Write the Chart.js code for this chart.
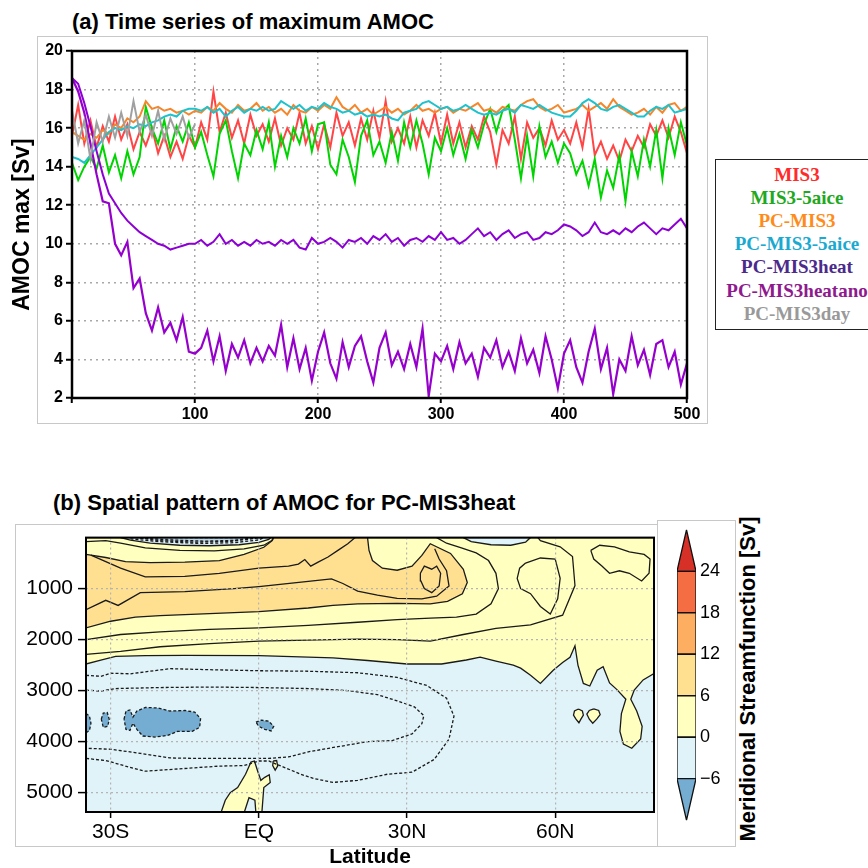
<!DOCTYPE html>
<html><head><meta charset="utf-8">
<script src="https://cdn.jsdelivr.net/npm/chart.js@4.4.1/dist/chart.umd.min.js"></script>
<style>
html,body{margin:0;padding:0;background:#fff}
body{position:relative;width:868px;height:868px;overflow:hidden;font-family:"Liberation Sans",Arial,sans-serif;color:#000}
.box{position:absolute;box-sizing:border-box}
.t{position:absolute;white-space:nowrap}
canvas{position:absolute;display:block}
</style></head><body>
<div class="box" style="left:37px;top:36px;width:671px;height:388px;border:1px solid #c8c8c8"></div>
<div class="t" style="left:72px;top:9px;font-weight:bold;font-size:22px;line-height:26px">(a) Time series of maximum AMOC</div>
<div class="box" style="left:715px;top:159px;width:200px;height:171px;border:1.5px solid #222"></div>
<div id="legend"></div>
<div class="box" style="left:15px;top:524px;width:643px;height:323px;border:1px solid #c8c8c8"></div>
<div class="box" style="left:657px;top:520px;width:79px;height:327px;border:1px solid #c8c8c8"></div>
<div class="t" style="left:53px;top:490px;font-weight:bold;font-size:22px;line-height:26px">(b) Spatial pattern of AMOC for PC-MIS3heat</div>
<div class="t" style="left:583px;top:667px;width:330px;height:24px;line-height:24px;text-align:center;font-weight:bold;font-size:22px;transform:rotate(-90deg)">Meridional Streamfunction [Sv]</div>
<canvas id="cA" width="710" height="400" style="left:0;top:30px"></canvas>
<canvas id="cB" width="680" height="348" style="left:0;top:520px"></canvas>
<canvas id="cC" width="80" height="320" style="left:657px;top:515px"></canvas>
<script>
// ---------------- Panel (a) data ----------------
const years = Array.from({length: 101}, (_, i) => i * 5);   // model year 0..500
const dayYears = years.slice(0, 21);                          // 0..100
const seriesNames = ['MIS3','MIS3-5aice','PC-MIS3','PC-MIS3-5aice','PC-MIS3heat','PC-MIS3heatano','PC-MIS3day'];
const mis3 = [15.6,17.2,15.2,16.4,15.0,16.1,15.3,16.6,15.4,16.2,14.9,15.8,15.1,16.0,14.7,15.6,14.5,15.3,14.4,15.6,15.0,
  16.3,15.4,17.9,15.8,16.8,15.5,16.4,15.2,16.7,15.6,16.2,15.3,16.5,15.1,16.0,15.4,16.8,15.2,16.1,14.9,
  16.2,15.0,16.8,15.6,16.3,15.1,16.5,15.4,16.9,15.5,17.4,15.3,16.0,15.2,16.6,15.0,16.4,15.6,16.8,15.2,
  16.7,15.2,16.3,15.0,16.1,15.4,16.6,15.8,14.1,15.9,15.2,16.6,14.4,16.3,15.5,16.0,15.1,16.4,15.4,15.9,
  15.2,16.3,15.0,17.0,14.6,15.3,14.4,15.1,14.3,15.4,14.8,15.6,15.0,16.2,15.6,16.4,15.5,16.6,15.8,14.7];
const mis3_5aice = [14.2,13.3,14.0,14.5,13.9,15.1,13.7,14.6,13.4,14.8,13.6,14.5,17.1,16.0,15.2,16.4,14.9,16.1,15.3,16.3,15.0,
  15.8,14.6,13.5,15.7,16.4,14.8,13.4,15.2,14.6,15.9,14.9,16.3,14.0,15.6,14.5,16.0,15.2,16.5,14.8,16.2,
  16.3,14.1,13.6,15.4,14.5,13.2,15.6,16.4,14.6,15.3,14.2,15.8,14.3,16.3,15.0,16.4,15.2,13.6,15.5,14.8,
  16.0,14.6,15.7,14.4,15.9,15.0,16.2,17.0,15.8,16.9,17.2,15.4,13.4,15.6,13.5,16.1,14.5,15.3,14.2,15.2,
  14.7,13.6,14.3,13.0,14.4,12.4,13.8,12.9,14.6,12.2,14.8,13.5,15.4,14.0,15.9,13.4,16.0,14.6,16.3,15.1];
const pcMis3 = [15.8,15.6,15.4,15.7,15.5,15.9,15.7,16.2,16.0,16.5,16.3,16.6,17.4,17.0,17.1,16.9,17.0,16.8,16.9,16.7,16.9,
  16.8,17.1,16.9,17.3,17.0,16.8,17.2,16.9,17.0,17.3,16.9,17.1,16.8,17.0,16.7,17.2,16.9,16.8,17.1,16.9,
  17.2,17.0,17.6,17.1,16.9,17.2,16.8,17.0,16.7,16.9,17.1,16.8,17.0,16.7,16.9,17.2,16.9,17.0,16.8,17.0,
  17.1,16.8,17.0,16.9,17.1,17.3,16.9,17.0,16.8,17.1,17.0,16.9,17.2,17.4,17.5,17.1,16.9,17.0,17.2,16.8,
  16.9,17.0,17.2,16.9,17.1,17.3,17.0,17.5,17.1,16.9,16.7,16.8,17.0,16.7,17.1,16.8,17.2,17.3,16.9,17.1];
const pcMis3_5aice = [14.5,14.4,14.2,14.6,15.0,15.4,15.8,16.0,15.9,16.1,16.0,16.2,16.1,16.3,16.4,16.6,16.7,16.6,16.9,17.0,17.0,
  16.9,17.1,16.8,17.0,16.6,16.9,17.1,16.8,17.0,16.9,17.1,16.9,17.0,17.4,17.2,17.0,17.2,16.9,17.1,17.0,
  17.3,17.1,17.0,16.8,16.9,16.7,16.8,16.6,16.7,16.6,16.7,16.5,16.4,16.8,16.9,17.0,17.3,17.4,17.2,17.0,
  17.1,16.9,17.0,17.2,17.0,16.8,16.7,16.8,16.7,16.9,17.0,16.8,17.2,17.1,17.0,17.2,17.0,16.8,16.7,16.6,
  16.6,16.9,17.3,17.5,17.3,17.0,16.9,17.1,17.2,17.0,16.8,16.6,16.6,16.9,17.1,17.0,17.2,16.8,16.9,17.0];
const pcMis3heat = [18.6,18.3,17.3,16.1,14.8,13.6,12.6,12.1,11.6,11.2,10.9,10.6,10.4,10.2,10.0,9.9,9.7,9.8,9.9,10.0,10.0,
  10.2,9.9,10.1,10.5,10.0,10.2,9.9,10.1,9.9,10.2,10.0,10.1,9.9,10.2,10.0,10.2,9.8,9.7,10.3,10.0,
  10.1,10.3,10.1,9.8,10.2,10.1,10.3,10.0,10.4,10.2,10.5,10.1,10.3,9.9,10.2,10.3,10.1,10.4,10.2,10.6,
  10.2,10.3,10.0,10.2,10.5,10.8,10.4,10.6,10.2,10.5,10.7,10.3,10.5,10.6,10.2,10.3,10.6,10.5,10.7,11.0,
  10.9,10.7,10.4,10.6,11.1,10.6,10.5,10.7,10.5,10.8,10.6,10.9,11.1,10.8,10.5,10.8,10.7,11.0,11.3,10.8];
const pcMis3heatano = [18.6,17.9,16.8,15.2,13.6,12.2,12.1,10.0,9.4,10.1,7.7,8.2,6.4,5.5,6.7,5.4,5.9,5.0,6.2,4.4,4.3,
  4.6,5.5,3.9,5.2,3.4,4.8,4.1,5.0,3.8,4.6,3.9,4.7,4.2,5.8,3.6,5.1,3.5,4.6,2.9,4.4,
  5.4,3.8,3.0,4.9,3.6,4.7,5.2,3.9,2.8,4.6,5.4,3.7,4.4,3.5,4.8,3.6,5.6,2.1,4.3,3.9,
  4.7,3.5,4.9,3.8,4.3,3.1,4.6,4.1,5.0,3.6,4.4,3.4,5.1,3.8,4.5,3.3,5.2,4.0,2.5,4.3,
  5.0,3.6,2.8,4.4,5.6,3.5,4.6,2.2,4.0,3.4,5.2,3.7,4.5,3.2,4.8,5.0,3.6,4.4,2.7,3.8];
const pcMis3day = [16.9,15.2,16.4,14.4,16.3,15.3,16.6,15.5,16.8,15.6,17.4,15.8,16.7,15.6,16.9,15.4,16.5,15.7,16.6,15.5,16.2];
const lineColors = ['#ff4545','#00d400','#f5862b','#1cc2cc','#8c00d4','#9600cc','#a0a0a0'];
const legendColors = ['#ff2b2b','#20a820','#ff8c1a','#1aa9d0','#4b2a8c','#8e1a8e','#999999'];

// ---------------- Panel (b) data: contour regions as [latitude, depth (m)] ----------------
const latTicks = {'-30':'30S','0':'EQ','30':'30N','60':'60N'};
const depthTicks = [1000, 2000, 3000, 4000, 5000];
const cbLevels = [-6,0,6,12,18,24];
const cbColors = ['#74add1','#e0f3f8','#ffffbf','#fee090','#fdae61','#f46d43','#d73027'];
const positiveCell = [[-35,0],[80,0],[80,2665],[77.8,2790],[76,2990],[75.3,3170],[76.5,3400],[77.6,3700],[77.3,3950],[75.5,4130],[73.8,4050],[73.1,3800],[73.4,3450],[74.3,3170],[72.5,2980],[71,2850],[69.7,2530],[68.5,2600],[67,2910],[65.7,2860],[64.6,2500],[64,2120],[63,2345],[61.5,2450],[59.6,2600],[57,2860],[55,2700],[53,2560],[51.5,2500],[48,2420],[44.8,2345],[42,2400],[37,2478],[30,2478],[22,2410],[15,2360],[0,2314],[-15,2310],[-23,2314],[-29,2330],[-32,2400],[-35,2478]];
const above6 = [[-35,330],[-31,390],[-27,470],[-22,490],[-15,480],[-8,450],[-3,330],[1,190],[2.7,60],[3,0],[22,0],[22.3,250],[23,450],[25,600],[28,640],[31,560],[33,350],[34.7,120],[38.8,310],[41.4,620],[42.2,880],[41.2,1100],[38.2,1250],[34.7,1300],[28,1290],[20,1300],[15,1330],[10,1380],[0,1450],[-10,1490],[-20,1530],[-25,1560],[-30,1640],[-35,1770]];
const surfaceCellS = [[-28,0],[-26,50],[-22,110],[-16,150],[-10,160],[-4,140],[0,95],[2,35],[2.4,0]];
const surfaceCoreS = [[-25,0],[-20,60],[-13,90],[-6,75],[-1,20],[0,0]];
const surfaceCellN = [[41.4,0],[43,80],[47,140],[51,150],[54,90],[55,0]];
const ovalA = [[64.7,3360],[65.5,3400],[65.7,3480],[65.2,3560],[64.8,3630],[64.2,3560],[63.7,3480],[63.9,3400]];
const ovalB = [[67.8,3360],[68.8,3390],[69.1,3470],[68.4,3560],[67.6,3640],[66.9,3560],[66.4,3460],[66.9,3390]];
const bottomBlob = [[-7.7,5400],[-6.8,5150],[-5.8,5000],[-4.3,4900],[-2.7,4640],[-1.6,4400],[-0.9,4380],[-0.3,4560],[0.4,4760],[1.2,4700],[2.1,4650],[2.3,4800],[1.0,4900],[0.8,5150],[0.6,5400],[-0.6,5400],[-0.8,5150],[-2.0,5100],[-3.0,5400]];
const bottomSpike = [[2.9,4380],[3.6,4370],[3.8,4480],[3.3,4560],[2.8,4470]];
const belowM6Main = [[-27.3,3560],[-26.9,3400],[-26.1,3380],[-25.5,3520],[-24.7,3400],[-23,3330],[-20.5,3340],[-18,3400],[-15,3390],[-13,3420],[-11.8,3550],[-12,3720],[-13.5,3800],[-16.5,3800],[-18.5,3880],[-21,3910],[-23.5,3890],[-24.7,3760],[-25.5,3640],[-26.1,3780],[-26.9,3760]];
const belowM6Small = [[-31.9,3560],[-31.5,3440],[-30.7,3430],[-30.3,3560],[-30.6,3700],[-31.5,3720]];
const belowM6Edge = [[-35,3450],[-34.3,3500],[-34,3640],[-34.3,3780],[-35,3830]];
const belowM6Eq = [[-0.6,3620],[0.5,3580],[2,3600],[3,3700],[2.5,3790],[1.2,3760],[0,3700]];
const loopA = [[54,500],[57,400],[60,420],[61,800],[60.5,1200],[59,1500],[57,1350],[55,1100],[53,1000],[52.3,800],[52.8,600]];
const loopB = [[67.2,250],[69,150],[72,180],[75,280],[78,330],[79.2,420],[79,700],[77.5,850],[75,700],[73,650],[71,700],[69.5,560],[67.8,420]];
const loopM = [[32.7,700],[33.5,560],[35,620],[36,560],[36.8,700],[36.5,950],[35,1080],[33.5,1000],[32.8,850]];
const c2 = [[-35,2290],[-28,2230],[-20,2140],[-10,2080],[0,2030],[10,2010],[20,1990],[28,2000],[34.7,2030],[41.4,1900],[48,1780],[55,1710],[61.5,1520],[64,940],[63.5,370],[61,180],[57,60],[56.5,0]];
const c4 = [[-35,2000],[-28,1900],[-20,1850],[-10,1800],[0,1770],[10,1720],[20,1660],[28,1610],[34.7,1580],[40,1560],[44,1500],[47,1300],[48.5,1000],[48,700],[46.5,450],[44,300],[41,200],[38,110],[36,0]];
const c8 = [[-35,1415],[-31,1230],[-28.5,1330],[-24,1080],[-15,1060],[-5,1000],[0,960],[10,860],[14.7,810],[17,900],[20,1050],[24,1130],[28,1190],[33,1200],[36,1150],[38.5,950],[38,650],[36.5,420],[35.6,220]];
const c10 = [[-34,345],[-28,600],[-23,770],[-15,760],[-8,700],[0,600],[6,560],[8,520],[9.3,430],[10.5,560],[12,480],[14,380],[16,250],[18,120],[19.5,0]];
const ringS = [[-35,80],[-31,60],[-28,110],[-23,200],[-16,250],[-9,260],[-3,220],[1,150],[2.6,60],[2.9,0]];
const coreLines = [[[-26,25],[-20,80],[-12,115],[-5,100],[0,45],[1,0]],[[-24,10],[-18,45],[-11,70],[-5,55],[-2,15]]];
const neg2 = [[-35,2700],[-32,2720],[-30,2660],[-26,2670],[-18,2570],[-10,2590],[0,2610],[10,2620],[20,2650],[28,2740],[34,2900],[38,3150],[39.5,3500],[38.5,3950],[35.5,4350],[31,4600],[26,4640],[20,4760],[15,4800],[11,4720],[8.5,4640],[5,4500],[2,4380],[0,4380],[-3,4470],[-8,4480],[-14,4520],[-20,4560],[-23,4580],[-27,4480],[-31,4370],[-35,4330]];
const neg4 = [[-35,2990],[-32,3010],[-29,2960],[-20,2940],[-10,2930],[0,2940],[10,2960],[18,3000],[24,3080],[28,3200],[31.5,3320],[33.4,3490],[33,3650],[31,3850],[27,3980],[22,4000],[16,4100],[10,4200],[6,4300],[2,4330],[-5,4330],[-12,4330],[-18,4320],[-24,4230],[-30,4150],[-35,4130]];

// ---------------- legend (HTML text) ----------------
const leg = document.getElementById('legend');
seriesNames.forEach((n, i) => {
  const d = document.createElement('div');
  d.className = 't';
  d.textContent = n;
  d.style.cssText = `left:797px;top:${163 + i * 23.1}px;transform:translateX(-50%);font-weight:bold;font-size:19px;line-height:24px;font-family:"Liberation Serif","Times New Roman",serif;color:${legendColors[i]}`;
  leg.appendChild(d);
});

const FONT = '"Liberation Sans", Arial, sans-serif';
const framePlugin = {
  id: 'frame',
  afterDraw(chart, args, opts) {
    const {ctx, chartArea: a} = chart;
    ctx.save();
    ctx.strokeStyle = '#000';
    ctx.lineWidth = opts.width || 2;
    ctx.strokeRect(a.left, a.top, a.right - a.left, a.bottom - a.top);
    ctx.restore();
  }
};

// ---------------- Panel (a) chart ----------------
const seriesData = [mis3, mis3_5aice, pcMis3, pcMis3_5aice, pcMis3heat, pcMis3heatano, pcMis3day];
const seriesYears = [years, years, years, years, years, years, dayYears];
new Chart(document.getElementById('cA'), {
  type: 'line',
  data: {
    datasets: seriesNames.map((n, i) => ({
      label: n,
      data: seriesData[i].map((v, k) => ({x: seriesYears[i][k], y: v})),
      borderColor: lineColors[i],
      borderWidth: (i === 5) ? 2.2 : 2,
      pointRadius: 0,
      fill: false,
      tension: 0,
      order: 6 - i
    }))
  },
  options: {
    responsive: false, animation: false, devicePixelRatio: 1, events: [],
    layout: {padding: {top: 21, right: 23, left: 0, bottom: 0}},
    plugins: {legend: {display: false}, tooltip: {enabled: false}, frame: {width: 2.5}},
    scales: {
      x: {
        type: 'linear', min: 0, max: 500,
        afterFit: s => { s.height = 32; },
        ticks: {stepSize: 100, autoSkip: false, maxRotation: 0, padding: 2, color: '#000',
          font: {family: FONT, size: 16, weight: 'bold'}, callback: v => v === 0 ? '' : String(v)},
        grid: {color: '#a8a8a8', lineWidth: 1.5, tickLength: 5, tickColor: '#000', tickWidth: 2},
        border: {display: false, dash: [2, 4]}
      },
      y: {
        type: 'linear', min: 2, max: 20,
        afterFit: s => { s.width = 72; },
        ticks: {stepSize: 2, padding: 3, color: '#000', font: {family: FONT, size: 16, weight: 'bold'}},
        grid: {color: '#a8a8a8', lineWidth: 1.5, tickLength: 6, tickColor: '#000', tickWidth: 2},
        border: {display: false, dash: [2, 4]},
        title: {display: true, text: 'AMOC max [Sv]', color: '#000', padding: {top: 11, bottom: 0},
          font: {family: FONT, size: 23, weight: 'bold', lineHeight: 1}}
      }
    }
  },
  plugins: [framePlugin]
});

// ---------------- Panel (b) chart ----------------
const pts = arr => arr.map(p => ({x: p[0], y: p[1]}));
const closed = arr => pts(arr.concat([arr[0]]));
const layersB = [];
function region(poly, color, dashed, stroke) {
  layersB.push({data: closed(poly), backgroundColor: color, fill: 'shape',
    borderColor: stroke === false ? 'rgba(0,0,0,0)' : '#1a1a1a', borderWidth: stroke === false ? 0 : 1.3,
    borderDash: dashed ? [3, 2] : []});
}
function contour(line, dashed, close) {
  layersB.push({data: close ? closed(line) : pts(line), fill: false, backgroundColor: 'rgba(0,0,0,0)',
    borderColor: '#1a1a1a', borderWidth: 1.3, borderDash: dashed ? [3, 2] : []});
}
region([[-35,0],[80,0],[80,5400],[-35,5400]], cbColors[1], false, false);
region(positiveCell, cbColors[2], false);
region(above6, cbColors[3], false);
region(surfaceCellS, cbColors[1], false);
region(surfaceCoreS, '#bcd5e5', true);
region(surfaceCellN, cbColors[1], false);
region(ovalA, cbColors[2], false);
region(ovalB, cbColors[2], false);
region(bottomBlob, cbColors[2], false);
region(bottomSpike, cbColors[2], false);
region(belowM6Main, cbColors[0], true);
region(belowM6Small, cbColors[0], true);
region(belowM6Edge, cbColors[0], true);
region(belowM6Eq, cbColors[0], true);
contour(c2, false); contour(c4, false); contour(c8, false); contour(c10, false); contour(ringS, false);
contour(loopA, false, true); contour(loopB, false, true); contour(loopM, false, true);
coreLines.forEach(l => contour(l, true));
contour(neg2, true); contour(neg4, true);
const nB = layersB.length;
layersB.forEach((d, i) => { d.order = nB - i; d.pointRadius = 0; d.tension = 0; });

new Chart(document.getElementById('cB'), {
  type: 'line',
  data: {datasets: layersB},
  options: {
    responsive: false, animation: false, devicePixelRatio: 1, events: [],
    layout: {padding: {top: 12, right: 26, left: 0, bottom: 0}},
    plugins: {legend: {display: false}, tooltip: {enabled: false}, frame: {width: 2}},
    scales: {
      x: {
        type: 'linear', min: -35, max: 80,
        afterFit: s => { s.height = 56; },
        ticks: {stepSize: 30, includeBounds: false, autoSkip: false, maxRotation: 0, padding: 2, color: '#000',
          font: {family: FONT, size: 21}, callback: v => latTicks[String(v)] || ''},
        grid: {color: '#b4b4b4', lineWidth: 1.2, tickLength: 6, tickColor: '#000', tickWidth: 1.5, z: 1},
        border: {display: false, dash: [2, 3]},
        title: {display: true, text: 'Latitude', color: '#000', padding: {top: 0, bottom: 0},
          font: {family: FONT, size: 21, weight: 'bold', lineHeight: 1}}
      },
      y: {
        type: 'linear', min: 0, max: 5380, reverse: true,
        afterFit: s => { s.width = 86; },
        afterBuildTicks: s => { s.ticks = depthTicks.map(v => ({value: v})); },
        ticks: {autoSkip: false, padding: 5, color: '#000', font: {family: FONT, size: 21},
          callback: v => String(v)},
        grid: {color: '#b4b4b4', lineWidth: 1.2, tickLength: 8, tickColor: '#000', tickWidth: 1.5, z: 1},
        border: {display: false, dash: [2, 3]}
      }
    }
  },
  plugins: [framePlugin]
});

// ---------------- Colorbar ----------------
const cbExt = 6;
const cbSets = [];
const cbPoly = (poly, color) => cbSets.push({data: closed(poly), fill: 'shape', backgroundColor: color,
  borderColor: '#111', borderWidth: 1.3, pointRadius: 0, tension: 0});
cbPoly([[0, cbLevels[0]], [1, cbLevels[0]], [0.5, cbLevels[0] - cbExt]], cbColors[0]);
for (let i = 0; i < cbLevels.length - 1; i++) {
  cbPoly([[0, cbLevels[i]], [1, cbLevels[i]], [1, cbLevels[i + 1]], [0, cbLevels[i + 1]]], cbColors[i + 1]);
}
const cbTop = cbLevels[cbLevels.length - 1];
cbPoly([[0, cbTop], [1, cbTop], [0.5, cbTop + cbExt]], cbColors[cbColors.length - 1]);

new Chart(document.getElementById('cC'), {
  type: 'line',
  data: {datasets: cbSets},
  options: {
    responsive: false, animation: false, devicePixelRatio: 1, events: [],
    layout: {padding: {top: 8, right: 0, left: 20, bottom: 7}},
    plugins: {legend: {display: false}, tooltip: {enabled: false}},
    scales: {
      x: {type: 'linear', min: 0, max: 1, display: false},
      y: {
        type: 'linear', position: 'right', min: cbLevels[0] - cbExt, max: cbTop + cbExt,
        afterFit: s => { s.width = 41; },
        grid: {display: false, drawTicks: false},
        border: {display: false},
        ticks: {stepSize: 6, padding: 4, color: '#000', font: {family: FONT, size: 18},
          callback: v => (v < cbLevels[0] || v > cbTop) ? '' : (v < 0 ? '\u2212' + Math.abs(v) : String(v))}
      }
    }
  }
});
</script>
</body></html>
